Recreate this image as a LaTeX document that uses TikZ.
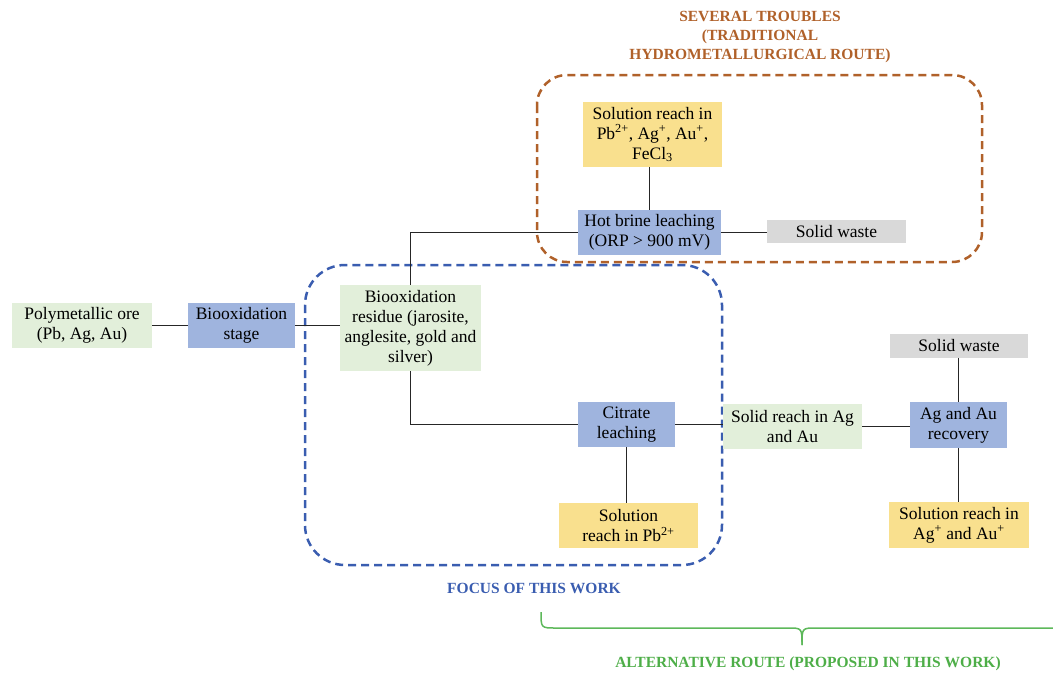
\documentclass[tikz,border=0pt]{standalone}
\usepackage{fontspec}
\setmainfont{Liberation Serif}
\definecolor{bluebox}{HTML}{9FB4DE}
\definecolor{greenbox}{HTML}{E2EFDA}
\definecolor{yellowbox}{HTML}{F9E08E}
\definecolor{graybox}{HTML}{D9D9D9}
\definecolor{brownline}{HTML}{B0612A}
\definecolor{blueline}{HTML}{3A5DB0}
\definecolor{greenline}{HTML}{5DB85A}
\definecolor{greentext}{HTML}{4EAE48}
\begin{document}
\begin{tikzpicture}[x=1pt,y=-1pt,
  box/.style={rectangle, inner sep=1pt, align=center, text=black,
    font=\fontsize{17.5}{20}\selectfont},
  bluebx/.style={box, fill=bluebox},
  greenbx/.style={box, fill=greenbox},
  yellowbx/.style={box, fill=yellowbox},
  graybx/.style={box, fill=graybox},
  link/.style={draw=black!85, line width=1.5pt},
  frame/.style={line width=2.5pt, dash pattern=on 8pt off 5pt},
  title/.style={align=center, font=\bfseries\fontsize{15.5}{19}\selectfont}
]
\useasboundingbox (0,0) rectangle (1053,675);

% dashed frames
\draw[frame, brownline, rounded corners=30pt] (537,75) rectangle (982,262);
\draw[frame, blueline, rounded corners=40pt] (305,265) rectangle (722,565);

% titles
\node[title, text=brownline] (ttrad) at (760,37) {SEVERAL TROUBLES\\(TRADITIONAL\\HYDROMETALLURGICAL ROUTE)};
\node[title, text=blueline] (tfocus) at (534,588) {FOCUS OF THIS WORK};
\node[title, text=greentext] (talt) at (808,664) {ALTERNATIVE ROUTE (PROPOSED IN THIS WORK)};

% boxes
\node[greenbx, minimum width=140pt, minimum height=45pt] (ore) at (82,325.5) {Polymetallic ore\\(Pb, Ag, Au)};
\node[bluebx, minimum width=107pt, minimum height=45pt] (stage) at (241.5,325.5) {Biooxidation\\stage};
\node[greenbx, minimum width=141pt, minimum height=86pt] (res) at (410.5,328) {Biooxidation\\residue (jarosite,\\anglesite, gold and\\silver)};
\node[bluebx, minimum width=143pt, minimum height=45pt] (hot) at (649.5,232.5) {Hot brine leaching\\(ORP > 900 mV)};
\node[yellowbx, minimum width=139pt, minimum height=65pt] (soltop) at (652.5,134.5) {Solution reach in\\Pb\textsuperscript{2+}, Ag\textsuperscript{+}, Au\textsuperscript{+},\\FeCl\textsubscript{3}};
\node[graybx, minimum width=139pt, minimum height=23pt] (wastetop) at (836.5,231.5) {Solid waste};
\node[bluebx, minimum width=97pt, minimum height=45pt] (cit) at (626.5,424.5) {Citrate\\leaching};
\node[yellowbx, minimum width=139pt, minimum height=45pt] (solpb) at (628.5,525.5) {Solution\\reach in Pb\textsuperscript{2+}};
\node[greenbx, minimum width=139pt, minimum height=45pt] (solidag) at (792.5,426.5) {Solid reach in Ag\\and Au};
\node[bluebx, minimum width=97pt, minimum height=46pt] (rec) at (958.5,425) {Ag and Au\\recovery};
\node[graybx, minimum width=138pt, minimum height=24pt] (wasteR) at (959,346) {Solid waste};
\node[yellowbx, minimum width=140pt, minimum height=46pt] (solag) at (959,525) {Solution reach in\\Ag\textsuperscript{+} and Au\textsuperscript{+}};

% connectors
\draw[link] (ore.east) -- (stage.west);
\draw[link] (stage.east) -- (stage.east -| res.west);
\draw[link] (res.north) |- (hot.west);
\draw[link] (hot.north) -- (hot.north |- soltop.south);
\draw[link] (hot.east) -- (hot.east -| wastetop.west);
\draw[link] (res.south) |- (cit.west);
\draw[link] (cit.south) -- (cit.south |- solpb.north);
\draw[link] (cit.east) -- (cit.east -| solidag.west);
\draw[link] (solidag.east) -- (solidag.east -| rec.west);
\draw[link] (rec.north) -- (rec.north |- wasteR.south);
\draw[link] (rec.south) -- (rec.south |- solag.north);

% brace
\coordinate (bl) at (541,612);
\coordinate (btip) at (802,645);
\coordinate (br) at (1053,628);
\draw[greenline, line width=1.5pt] (bl) .. controls (541,628) .. (556,628) -- (788,628) .. controls (802,628) .. (btip);
\draw[greenline, line width=1.5pt] (btip) .. controls (802,628) .. (816,628) -- (br);
\end{tikzpicture}
\end{document}
